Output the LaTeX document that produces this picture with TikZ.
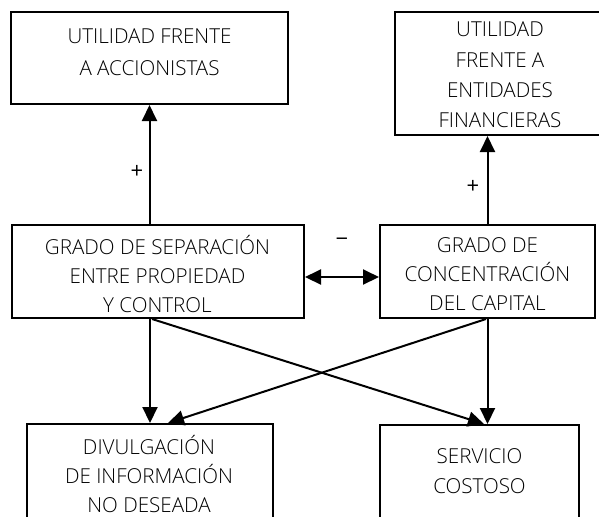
\documentclass[tikz,border=0pt]{standalone}
\usepackage{fontspec}
\setmainfont{Open Sans Light}
\newfontfamily\signfont{Open Sans}
\usetikzlibrary{arrows.meta,calc}
\begin{document}
\begin{tikzpicture}[x=0.5pt,y=-0.5pt,
  >={Triangle[length=8pt,width=7.5pt]},
  box/.style={draw=black,line width=1pt,rectangle,inner sep=0pt},
  txt/.style={align=center,inner sep=0pt,font=\fontsize{10.3}{14.6}\selectfont,text=black},
  lbl/.style={inner sep=0pt,font=\signfont\fontsize{11}{14}\selectfont},
  arr/.style={->,line width=1pt}]
\useasboundingbox (0,0) rectangle (599,516);
\clip (0,0) rectangle (599,516);
% boxes
\node[box,minimum width=138.5pt,minimum height=46pt] (b1) at (149.5,58) {};
\node[box,minimum width=105pt,minimum height=61.5pt] (b2) at (500,73.5) {};
\node[box,minimum width=146pt,minimum height=46.5pt] (b3) at (158,271.5) {};
\node[box,minimum width=107.5pt,minimum height=46.5pt] (b4) at (487.5,271.5) {};
\node[box,minimum width=123pt,minimum height=58pt] (b5) at (150,482) {};
\node[box,minimum width=99.5pt,minimum height=57.5pt] (b6) at (479.5,482.5) {};
% texts
\node[txt,font=\fontsize{10.3}{16}\selectfont] (t1) at (149.5,52.5) {UTILIDAD FRENTE\\A ACCIONISTAS};
\node[txt,font=\fontsize{10.3}{15.2}\selectfont] (t2) at (500,75) {UTILIDAD\\FRENTE A\\ENTIDADES\\FINANCIERAS};
\node[txt] (t3) at (157.5,274) {GRADO DE SEPARACIÓN\\ENTRE PROPIEDAD\\Y CONTROL};
\node[txt] (t4) at (487.5,274) {GRADO DE\\CONCENTRACIÓN\\DEL CAPITAL};
\node[txt] (t5) at (149,474) {DIVULGACIÓN\\DE INFORMACIÓN\\NO DESEADA};
\node[txt,font=\fontsize{10.3}{15}\selectfont] (t6) at (479.5,471) {SERVICIO\\COSTOSO};
% connectors
\draw[arr] (b3.north -| b1) -- (b1.south);
\draw[arr] (b4.north) -- (b4.north |- b2.south);
\draw[<->,line width=1pt] ($(b3.east)+(0,5.5)$) -- ($(b4.west)+(0,5.5)$);
\draw[arr] (b3.south -| b5) -- (b5.north);
\draw[arr] (b4.south) -- (b4.south |- b6.north);
\draw[arr] ($(b3.south)+(-6,0)$) -- ($(b6.north)+(4.5,0)$);
\draw[arr] ($(b4.south)+(-1.5,0)$) -- ($(b5.north)+(18,0)$);
% signs
\node[lbl] (p1) at (137,172) {+};
\node[lbl] (p2) at (473,187) {+};
\node[lbl] (m1) at (342,242) {−};
\end{tikzpicture}
\end{document}
